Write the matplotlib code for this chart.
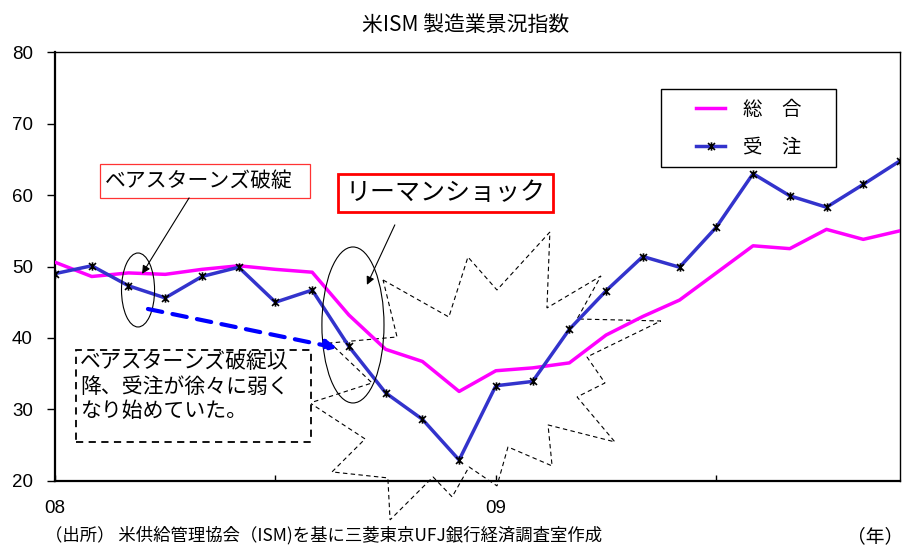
import matplotlib
matplotlib.use("Agg")
import matplotlib.pyplot as plt
from matplotlib.patches import Rectangle, Ellipse, Polygon
from matplotlib.path import Path

# ---- data: US ISM manufacturing, Jan 2008 - Dec 2009 (monthly) ----
months = list(range(24))
composite = [50.6, 48.6, 49.1, 48.9, 49.6, 50.1, 49.6, 49.2,
             43.2, 38.4, 36.7, 32.5, 35.4, 35.8, 36.5, 40.4,
             43.0, 45.3, 49.1, 52.9, 52.5, 55.2, 53.8, 55.0]
new_orders = [49.0, 50.1, 47.3, 45.6, 48.6, 49.9, 45.0, 46.7,
              38.8, 32.3, 28.6, 22.9, 33.3, 33.9, 41.2, 46.6,
              51.4, 49.9, 55.5, 63.0, 59.9, 58.3, 61.5, 64.8]
series_labels = ["総　合", "受　注"]
year_labels = ["08", "09"]
y_ticks = [20, 30, 40, 50, 60, 70, 80]

JP = ["Noto Sans CJK JP", "DejaVu Sans"]
NUM = ["Liberation Sans", "DejaVu Sans"]

fig = plt.figure(figsize=(9.03, 5.48), dpi=100)
ax = fig.add_axes([55 / 903, 1 - 480.7 / 548, 845 / 903, 428.4 / 548])

# Excel-style star marker: an X crossed by a vertical bar
star = Path([(-1, -1), (1, 1), (-1, 1), (1, -1), (0, -1.2), (0, 1.2)],
            [Path.MOVETO, Path.LINETO, Path.MOVETO, Path.LINETO,
             Path.MOVETO, Path.LINETO])

# burst outline behind the lines
burst = [(8.93, 48.11), (10.72, 42.93), (11.24, 51.33), (12.03, 46.71),
         (13.47, 54.83), (13.39, 44.19), (14.86, 48.67), (14.21, 42.65),
         (16.49, 42.37), (14.48, 37.33), (14.97, 33.69), (14.21, 31.73),
         (15.24, 25.43), (13.42, 27.81), (13.53, 22.07), (12.33, 24.73),
         (12.03, 19.27), (11.27, 21.93), (10.81, 17.73), (10.29, 20.53),
         (9.12, 14.51), (9.06, 20.39), (7.54, 21.23), (8.44, 25.85),
         (6.94, 30.89), (8.63, 33.69), (7.49, 39.29), (9.31, 40.13)]
ax.add_patch(Polygon(burst, closed=True, fill=False, edgecolor="black",
                     lw=0.8, linestyle=(0, (4, 3)), clip_on=False, zorder=1))

ax.plot(months, composite, color="#FF00FF", lw=2.5, zorder=3,
        label=series_labels[0])
ax.plot(months, new_orders, color="#3333CC", lw=2.5, zorder=4,
        marker=star, markersize=6, markeredgecolor="black",
        markeredgewidth=1.2, label=series_labels[1])

ax.set_xlim(0, 23)
ax.set_ylim(20, 80)
ax.set_yticks(y_ticks)
ax.set_yticklabels([str(v) for v in y_ticks], fontsize=13.5, family=NUM)
ax.set_xticks([0, 6, 12, 18])
ax.set_xticklabels([year_labels[0], "", year_labels[1], ""], fontsize=13.5,
                   family=NUM)
ax.tick_params(axis="y", direction="out", length=6, width=1, pad=10)
ax.tick_params(axis="x", direction="in", length=4, width=1, pad=14)
for s in ["top", "right"]:
    ax.spines[s].set_linewidth(1.0)
for s in ["left", "bottom"]:
    ax.spines[s].set_linewidth(1.6)

# legend inside its own box
ax.add_patch(Rectangle((0.717, 0.732), 0.207, 0.182, transform=ax.transAxes,
                       fill=True, facecolor="white", edgecolor="black",
                       lw=1.0, zorder=5))
leg = ax.legend(loc="center", bbox_to_anchor=(0.821, 0.823), frameon=False,
                prop={"family": JP, "size": 14}, handlelength=1.5,
                handletextpad=0.9, labelspacing=0.85)
leg.set_zorder(6)

# Bear Stearns callout
ax.add_patch(Rectangle((1.225, 59.59), 5.715, 4.77, fill=True,
                       facecolor="white", edgecolor="#FF3333", lw=0.9,
                       zorder=5))
ax.text(1.36, 61.98, "ベアスターンズ破綻", fontsize=15, family=JP,
        va="center", ha="left", zorder=6)
ax.add_patch(Ellipse((2.26, 46.71), 0.9, 10.36, fill=False,
                     edgecolor="black", lw=0.8, zorder=5))
ax.annotate("", xy=(2.37, 48.97), xytext=(3.65, 59.61),
            arrowprops=dict(arrowstyle="-|>", color="black", lw=0.8,
                            mutation_scale=12, shrinkA=0, shrinkB=0),
            zorder=6)

# Lehman callout
ax.add_patch(Rectangle((7.70, 57.63), 5.85, 5.32, fill=True,
                       facecolor="white", edgecolor="#FF0000", lw=2.0,
                       zorder=5))
ax.text(10.63, 60.29, "リーマンショック", fontsize=18, family=JP,
        va="center", ha="center", zorder=6)
ax.add_patch(Ellipse((8.11, 41.81), 1.69, 21.85, fill=False,
                     edgecolor="black", lw=0.8, zorder=5))
ax.annotate("", xy=(8.49, 47.43), xytext=(9.25, 55.83),
            arrowprops=dict(arrowstyle="-|>", color="black", lw=0.8,
                            mutation_scale=12, shrinkA=0, shrinkB=0),
            zorder=6)

# weakening-orders note with dashed arrow
ax.annotate("", xy=(7.68, 38.59), xytext=(2.53, 44.05),
            arrowprops=dict(arrowstyle="-|>", color="#0000FF", lw=3.0,
                            linestyle=(0, (3.5, 2.5)), mutation_scale=16,
                            shrinkA=0, shrinkB=0),
            zorder=6)
ax.add_patch(Rectangle((0.57, 25.45), 6.40, 12.88, fill=True,
                       facecolor="white", edgecolor="black", lw=1.3,
                       linestyle=(0, (4, 3)), zorder=5))
ax.text(0.68, 38.1, "ベアスターンズ破綻以\n降、受注が徐々に弱く\nなり始めていた。",
        fontsize=15, family=JP, va="top", ha="left", linespacing=1.12,
        zorder=6)

fig.text(466 / 903, 1 - 25 / 548, "米ISM 製造業景況指数", fontsize=15,
         family=JP, ha="center", va="center")
fig.text(45 / 903, 1 - 535 / 548,
         "（出所） 米供給管理協会（ISM)を基に三菱東京UFJ銀行経済調査室作成",
         fontsize=12.5, family=JP, ha="left", va="center")
fig.text(903 / 903, 1 - 537 / 548, "（年）", fontsize=13.5, family=JP,
         ha="right", va="center")

fig.savefig("out.png", dpi=100)
